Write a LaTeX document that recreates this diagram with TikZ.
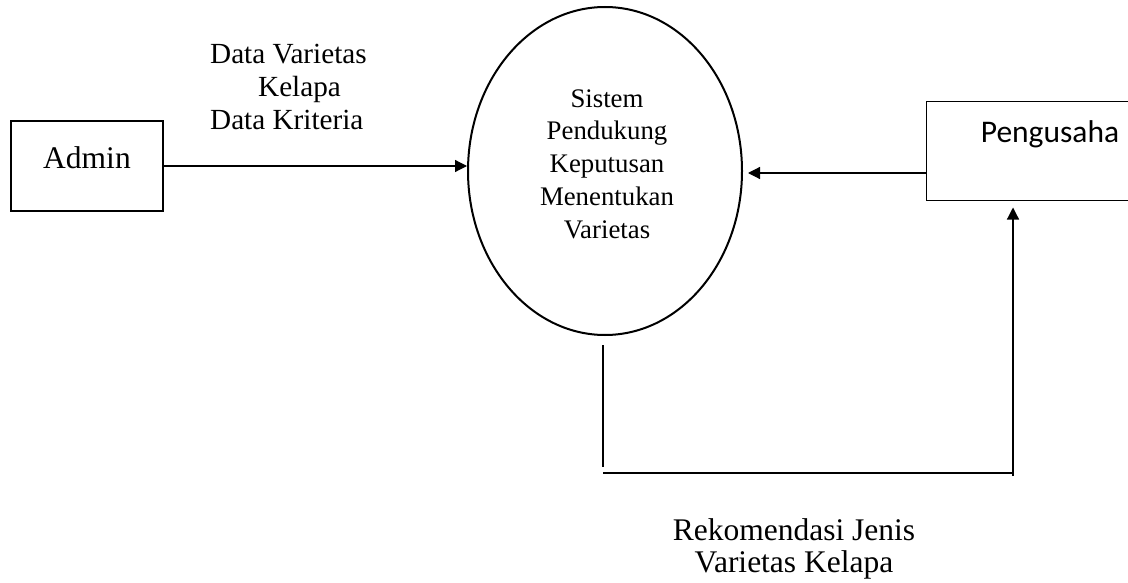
\documentclass[tikz,border=0pt]{standalone}
\usepackage{fontspec}
\setmainfont{Liberation Serif}
\newfontfamily\calibfont{Carlito}
\usetikzlibrary{shapes.geometric,arrows.meta}
\begin{document}
\begin{tikzpicture}[x=1pt,y=-1pt,
  entity/.style={draw,inner sep=0pt},
  flow/.style={line width=1.2pt,-{Triangle[length=12pt,width=12pt]}},
  plain/.style={line width=1.2pt},
  flowlabel/.style={font=\fontsize{29.2}{33}\selectfont,inner sep=0pt}]
\useasboundingbox (0,0) rectangle (1128,583);

% external entities
\node[entity,line width=2pt,minimum width=152pt,minimum height=90pt,
      text height=22pt,text depth=18pt,font=\fontsize{31.5}{36}\selectfont]
      (admin) at (87,166) {Admin};
\node[entity,line width=1pt,minimum width=248pt,minimum height=99pt,
      text height=22pt,text depth=39pt,font=\calibfont\fontsize{31.5}{36}\selectfont]
      (peng) at (1050,151.5) {Pengusaha};

% process
\node[draw,ellipse,line width=2pt,minimum width=274pt,minimum height=328pt,inner sep=0pt]
      (sys) at (605,171) {};
\node[align=center,inner sep=0pt,font=\fontsize{26.8}{32.75}\selectfont]
      (systext) at (607,164) {Sistem\\Pendukung\\Keputusan\\Menentukan\\Varietas};

% data flows
\draw[flow] (admin.east) -- (admin.east -| sys.west);
\draw[flow] ([yshift=-2pt]peng.west |- sys.east) -- ([xshift=5pt,yshift=-2pt]sys.east);

\coordinate (dropstart) at ([xshift=-2pt,yshift=-9pt]sys.south);
\coordinate (dropend) at (603,467);
\coordinate (turnL) at (603,473);
\coordinate (turnR) at (1013,473);
\draw[plain] (dropstart) -- (dropend);
\draw[plain,line width=1.6pt] (turnL) -- (turnR);
\draw[flow,shorten >=6pt] ([yshift=-3pt]turnR) -- (turnR |- peng.south);

% flow labels
\node[flowlabel,align=left,anchor=north west] (inlabel) at (210,44)
  {Data Varietas\\\hspace*{48pt}Kelapa\\Data Kriteria};
\node[flowlabel,align=center,anchor=north,font=\fontsize{31.5}{32}\selectfont]
  (outlabel) at (794,518) {Rekomendasi Jenis\\Varietas Kelapa};
\end{tikzpicture}
\end{document}
